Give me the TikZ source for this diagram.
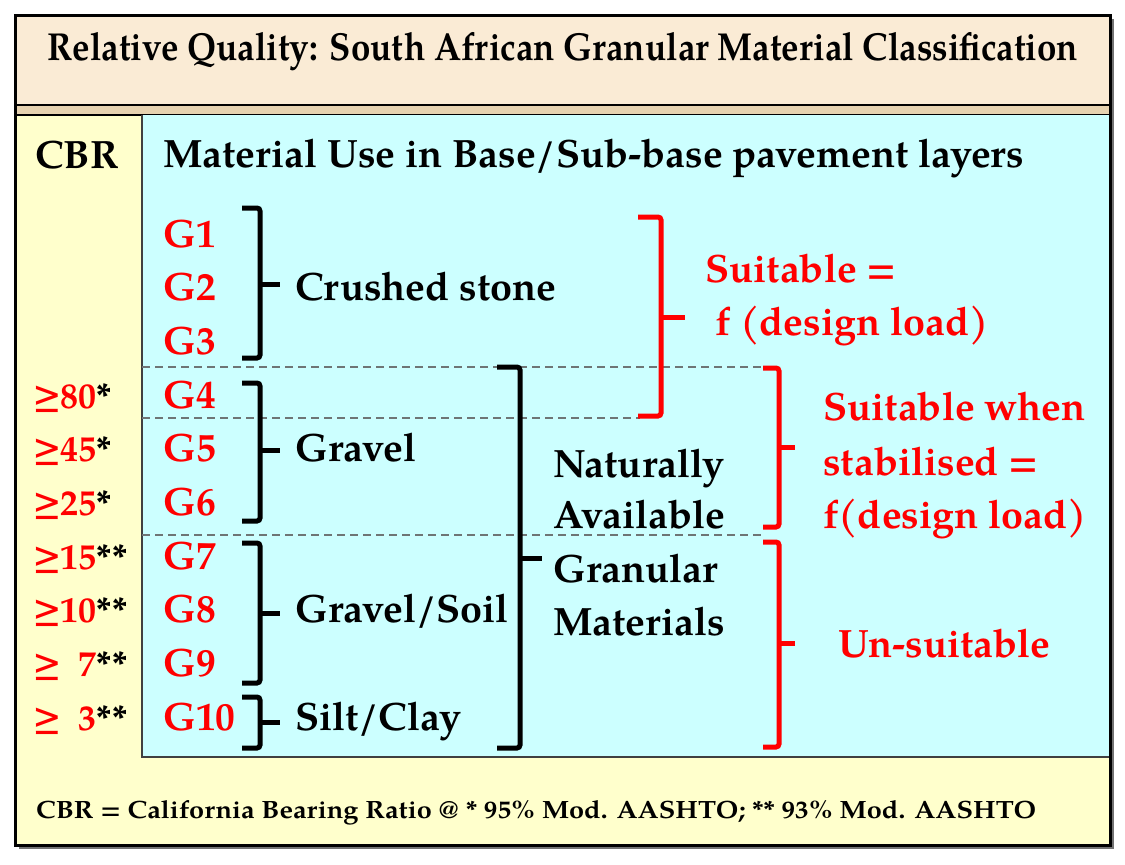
\documentclass[tikz,border=0pt]{standalone}
\usepackage{fontspec}
\setmainfont{TeX Gyre Pagella}
\usepackage{graphicx}
\definecolor{titlebg}{HTML}{FAEBD5}
\definecolor{bandbg}{HTML}{E6D2B0}
\definecolor{yellowbg}{HTML}{FFFFCC}
\definecolor{cyanbg}{HTML}{CCFFFF}
\definecolor{sepgray}{HTML}{6E7575}
\newcommand\mybracket[7]{%
  \draw[brk,#1] (#2,#4) -- (#3,#4) -- (#3,#5) -- (#2,#5);
  \draw[#1,line width=5pt] (#3,#6) -- (#7,#6);}
\begin{document}
\begin{tikzpicture}[x=1pt,y=-1pt,
  lbl/.style={anchor=base west, inner sep=0pt, font=\fontsize{39.5}{46}\selectfont\bfseries},
  redlbl/.style={lbl, text=red},
  cbrval/.style={anchor=base west, inner sep=0pt, text=red, font=\fontsize{36}{42}\selectfont\bfseries},
  brk/.style={line width=5pt, rounded corners=3pt},
  sepline/.style={draw=sepgray, line width=1.3pt, dash pattern=on 8pt off 5pt}]
\useasboundingbox (0,0) rectangle (1125,865);
\fill[white] (0,0) rectangle (1125,865);
% frame and backgrounds
\fill[black!55] (19,19) rectangle (1114,849);
\fill[yellowbg] (15,15) rectangle (1110,845);
\fill[titlebg] (15,15) rectangle (1110,105);
\fill[bandbg] (15,105) rectangle (1110,115);
\draw[line width=1.2pt] (15,105) -- (1110,105);
\draw[line width=1.2pt] (15,115) -- (1110,115);
\fill[cyanbg] (142,115) rectangle (1110,757);
\draw[black!75, line width=1.2pt] (142,115) -- (142,757) -- (1110,757);
\draw[line width=3pt] (15,15) rectangle (1110,845);
% title and footer
\node[anchor=base, inner sep=0pt] (title) at (563,60)
  {\resizebox{1030pt}{\height}{\fontsize{39}{44}\selectfont\bfseries Relative Quality: South African Granular Material Classification}};
\node[anchor=base west, inner sep=0pt] (footer) at (36,818)
  {\resizebox{1000pt}{\height}{\fontsize{25}{30}\selectfont\bfseries CBR = California Bearing Ratio @ * 95\% Mod. AASHTO; ** 93\% Mod. AASHTO}};
% headers
\node[lbl] (cbr) at (35,168) {CBR};
\node[lbl] (use) at (163,167) {Material Use in Base/Sub-base pavement layers};
% dashed separators
\draw[sepline] (142,367) -- (765,367);
\draw[sepline] (142,418) -- (640,418);
\draw[sepline] (142,535) -- (765,535);
% grades
\foreach \i/\yy in {1/247,2/300.7,3/354.4,4/408.1,5/461.8,6/515.5,7/569.2,8/622.9,9/676.6,10/730.3}
  \node[redlbl] (g\i) at (163,\yy) {G\i};
% CBR values
\node[cbrval] (c4) at (33,408.1) {≥80\textcolor{black}{*}};
\node[cbrval] (c5) at (33,461.8) {≥45\textcolor{black}{*}};
\node[cbrval] (c6) at (33,515.5) {≥25\textcolor{black}{*}};
\node[cbrval] (c7) at (33,569.2) {≥15\textcolor{black}{**}};
\node[cbrval] (c8) at (33,622.9) {≥10\textcolor{black}{**}};
\node[cbrval] (c9) at (33,676.6) {≥\ \ 7\textcolor{black}{**}};
\node[cbrval] (c10) at (33,730.3) {≥\ \ 3\textcolor{black}{**}};
% black brackets
\mybracket{black}{242}{260}{208}{358}{284}{280}
\mybracket{black}{242}{260}{383}{521}{450}{280}
\mybracket{black}{242}{260}{543}{683}{613}{280}
\mybracket{black}{242}{260}{697}{748}{722}{280}
\mybracket{black}{497}{520}{367}{748}{558}{542}
% red brackets
\mybracket{red}{638}{661}{217}{416}{317}{685}
\mybracket{red}{763}{779}{368}{527}{447}{795}
\mybracket{red}{763}{779}{542}{747}{643}{795}
% group labels
\node[lbl] (crushed) at (295,300.7) {Crushed stone};
\node[lbl] (gravel) at (295,461.8) {Gravel};
\node[lbl] (gsoil) at (295,622.9) {Gravel/Soil};
\node[lbl] (silt) at (295,730.3) {Silt/Clay};
\node[lbl] (nat1) at (553,477) {Naturally};
\node[lbl] (nat2) at (553,528) {Available};
\node[lbl] (nat3) at (553,582) {Granular};
\node[lbl] (nat4) at (553,635) {Materials};
% suitability labels
\node[redlbl] (s1a) at (705,282) {Suitable =};
\node[redlbl] (s1b) at (715,335) {f (design load)};
\node[redlbl] (s2a) at (823,420) {Suitable when};
\node[redlbl] (s2b) at (823,475) {stabilised =};
\node[redlbl] (s2c) at (823,528) {f(design load)};
\node[redlbl] (s3) at (838,657) {Un-suitable};
\end{tikzpicture}
\end{document}
